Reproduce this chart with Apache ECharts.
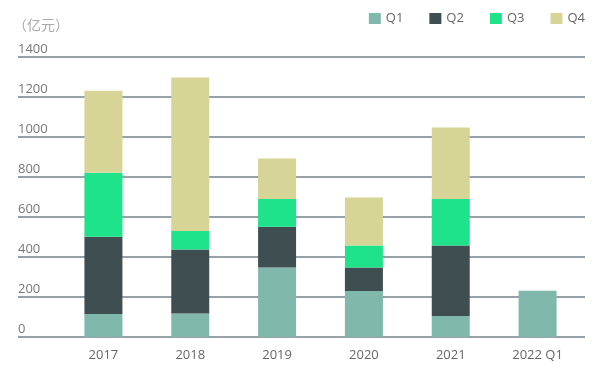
<!DOCTYPE html>
<html>
<head>
<meta charset="utf-8">
<script src="https://cdn.jsdelivr.net/npm/echarts@6/dist/echarts.min.js"></script>
<style>
  html, body { margin: 0; padding: 0; background: #fff; }
  #chart { width: 600px; height: 377px; }
</style>
</head>
<body>
<div id="chart"></div>
<script>
  var years = ['2017', '2018', '2019', '2020', '2021', '2022 Q1']
  var q1 = [115, 118, 348, 230, 105, 231]
  var q2 = [386, 320, 203, 117, 352, null]
  var q3 = [320, 92, 139, 111, 233, null]
  var q4 = [410, 767, 203, 239, 358, null]
  var seriesNames = ['Q1', 'Q2', 'Q3', 'Q4']
  var colors = ['#80b9ab', '#3f4f51', '#1ee38b', '#d6d597']

  var myChart = echarts.init(document.getElementById('chart'))

  var font = '"Open Sans", sans-serif'
  var allData = [q1, q2, q3, q4]
  var series = allData.map(function (d, i) {
    return {
      name: seriesNames[i],
      type: 'bar',
      stack: 'total',
      xAxisIndex: 1,
      yAxisIndex: 1,
      barWidth: 38,
      data: d,
      itemStyle: { color: colors[i] }
    }
  })

  var option = {
    animation: false,
    textStyle: { fontFamily: font },
    title: {
      text: '（亿元）',
      left: 8,
      top: 13,
      textStyle: { fontSize: 14, fontWeight: 'normal', color: '#aaaaaa', fontFamily: '"Noto Sans CJK SC", sans-serif' }
    },
    legend: {
      data: seriesNames,
      right: 10,
      top: 7,
      itemWidth: 12,
      itemHeight: 11,
      itemGap: 26,
      icon: 'rect',
      textStyle: { fontSize: 13, color: '#666', fontFamily: font }
    },
    grid: [
      { left: 18, right: 15, top: 57, bottom: 40 },
      { left: 60, right: 19, top: 57, bottom: 40 }
    ],
    xAxis: [
      { type: 'value', gridIndex: 0, show: false },
      {
        type: 'category',
        gridIndex: 1,
        data: years,
        axisLine: { show: false },
        axisTick: { show: false },
        axisLabel: { color: '#666', fontSize: 13, margin: 12, fontFamily: font }
      }
    ],
    yAxis: [
      {
        type: 'value',
        gridIndex: 0,
        min: 0,
        max: 1400,
        interval: 200,
        axisLine: { show: false },
        axisTick: { show: false },
        splitLine: { lineStyle: { color: '#76828a', width: 1.5 } },
        axisLabel: {
          inside: true,
          margin: 0,
          verticalAlign: 'bottom',
          padding: [0, 0, 1, 0],
          color: '#777',
          fontSize: 13,
          fontFamily: font,
          formatter: function (v) { return String(v) }
        }
      },
      { type: 'value', gridIndex: 1, min: 0, max: 1400, interval: 200, show: false }
    ],
    series: series
  }
  myChart.setOption(option)
</script>
</body>
</html>
